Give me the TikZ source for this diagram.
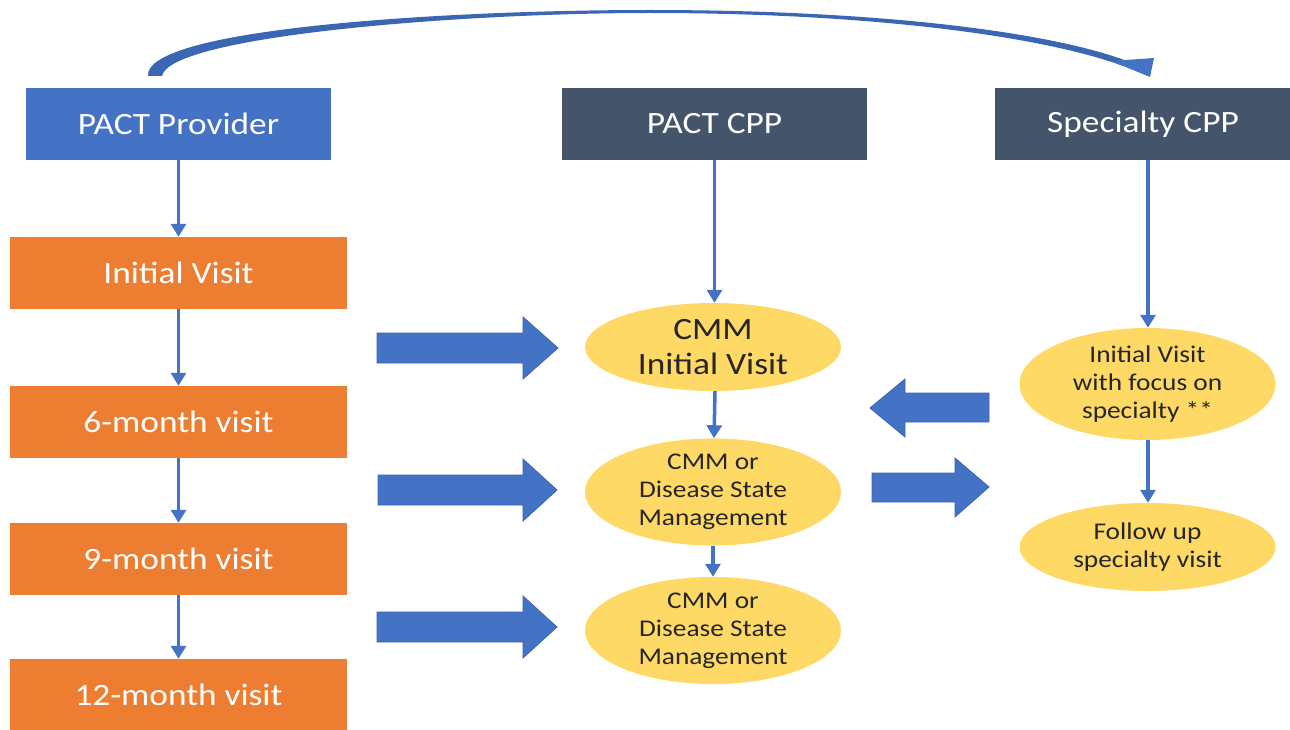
\documentclass[tikz,border=0pt]{standalone}
\usepackage{fontspec}
\setmainfont{Carlito}[FakeStretch=1.14]
\usetikzlibrary{shapes.geometric,arrows.meta}
\definecolor{pblue}{HTML}{4472C4}
\definecolor{pdark}{HTML}{44546A}
\definecolor{porange}{HTML}{ED7D31}
\definecolor{pyellow}{HTML}{FFD966}
\definecolor{pedge}{HTML}{3A66B4}
\definecolor{ptext}{HTML}{262626}
\tikzset{
  headbox/.style={rectangle, fill=#1, text=white, minimum width=305pt, minimum height=72pt, inner sep=0pt, font=\fontsize{31}{35}\selectfont},
  visitbox/.style={rectangle, fill=porange, text=white, minimum width=337pt, minimum height=72pt, inner sep=0pt, font=\fontsize{31}{35}\selectfont},
  oval/.style={ellipse, fill=pyellow, text=ptext, minimum width=256pt, minimum height=#1, inner sep=0pt, align=center, font=\fontsize{24}{28}\selectfont},
  thinarrow/.style={draw=pblue, line width=3.5pt, -{Triangle[length=13pt,width=15pt]}},
  blockarrow/.style={fill=pblue, draw=pedge, line width=0.8pt},
}
\begin{document}
\begin{tikzpicture}[x=1pt,y=-1pt]
\useasboundingbox (0,0) rectangle (1290,730);
% header boxes
\node[headbox=pblue] (pp) at (178.5,124) {PACT Provider};
\node[headbox=pdark] (cpp) at (714.5,124) {PACT CPP};
\node[headbox=pdark, minimum width=296pt] (scpp) at (1143,124) {Specialty CPP};
% visit boxes
\node[visitbox] (iv) at (178.5,273) {Initial Visit};
\node[visitbox] (m6) at (178.5,422) {6-month visit};
\node[visitbox] (m9) at (178.5,559) {9-month visit};
\node[visitbox, minimum height=71pt] (m12) at (178.5,694.5) {12-month visit};
% ovals
\node[oval=88pt, font=\fontsize{31}{35}\selectfont] (e1) at (713,347) {CMM\\Initial Visit};
\node[oval=92pt] (e2) at (713,492) {CMM or\\Disease State\\Management};
\node[oval=95pt] (e3) at (713,630.5) {CMM or\\Disease State\\Management};
\node[oval=112pt] (s1) at (1147.5,384) {Initial Visit\\with focus on\\specialty **};
\node[oval=88pt] (s2) at (1147.5,547) {Follow up\\specialty visit};
% thin arrows
\draw[thinarrow] (pp) -- (iv);
\draw[thinarrow] (iv) -- (m6);
\draw[thinarrow] (m6) -- (m9);
\draw[thinarrow] (m9) -- (m12);
\draw[thinarrow] (cpp.south) -- (cpp.south |- e1.north);
\draw[thinarrow] (e1.south -| 715,0) -- (e2.north -| 714,0);
\draw[thinarrow] (e2) -- (e3);
\draw[thinarrow] (scpp.south -| 1148,0) -- (s1.north -| 1148,0);
\draw[thinarrow] (s1.south -| 1148,0) -- (s2.north -| 1148,0);
% block arrows
\draw[blockarrow] (377,333)--(523,333)--(523,317)--(558,348)--(523,379)--(523,363)--(377,363)--cycle;
\draw[blockarrow] (378,475)--(523,475)--(523,459)--(557,490)--(523,521)--(523,505)--(378,505)--cycle;
\draw[blockarrow] (377,612)--(523,612)--(523,596)--(557,627)--(523,658)--(523,642)--(377,642)--cycle;
\draw[blockarrow] (989,393)--(905,393)--(905,379)--(870,408)--(905,437)--(905,422)--(989,422)--cycle;
\draw[blockarrow] (872,473)--(955,473)--(955,458)--(989,487)--(955,517)--(955,502)--(872,502)--cycle;
% curved arrow from PACT Provider to Specialty CPP
\fill[pedge] (148,76) .. controls (144,28) and (450,10) .. (650,10)
  .. controls (880,10) and (1050,32) .. (1127,61)
  -- (1123,66)
  .. controls (1048,38) and (880,13) .. (650,13)
  .. controls (460,13) and (170,36) .. (162,76) -- cycle;
\fill[pblue] (1111,61) -- (1154,58) -- (1150,77) -- cycle;
\end{tikzpicture}
\end{document}
